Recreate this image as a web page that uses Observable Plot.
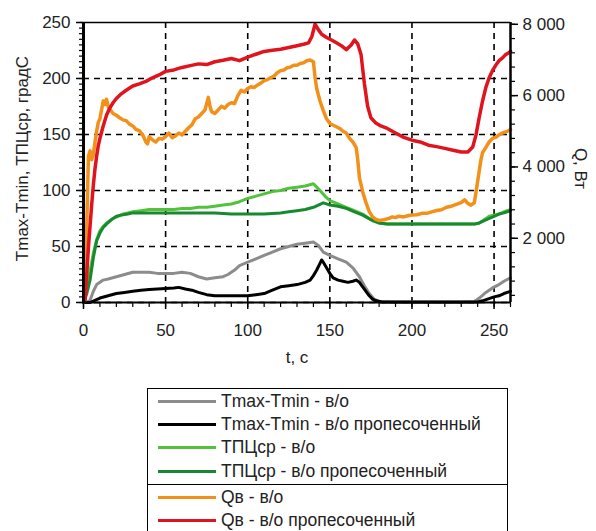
<!DOCTYPE html>
<html>
<head>
<meta charset="utf-8">
<script src="https://cdn.jsdelivr.net/npm/d3@7"></script>
<script src="https://cdn.jsdelivr.net/npm/@observablehq/plot@0.6"></script>
<style>
  html, body { margin: 0; padding: 0; background: #fff; }
  body { width: 596px; height: 531px; overflow: hidden; font-family: "Liberation Sans", Arial, sans-serif; }
  #legend { position: relative; margin-left: 147px; margin-top: 13px; width: 359px; border: 1px solid #000; color: #222; font-size: 17.5px; }
  .grp { padding: 1px 0 1px 0; }
  .grp.first { border-bottom: 1px solid #000; padding-bottom: 1px; }
  .row { height: 23.2px; display: flex; align-items: center; white-space: nowrap; }
  .sw { width: 58px; height: 3px; margin-left: 10px; margin-right: 5px; }
</style>
</head>
<body>
<div id="chart"></div>
<div id="legend"></div>
<script>
// ---- data (t in seconds) ----
const xTicks = [0, 50, 100, 150, 200, 250];
const yTicks = [0, 50, 100, 150, 200, 250];
const qTicks = [2000, 4000, 6000, 8000];

const seriesNames = [
  "Tmax-Tmin - в/о",
  "Tmax-Tmin - в/о пропесоченный",
  "ТПЦср - в/о",
  "ТПЦср - в/о пропесоченный",
  "Qв - в/о",
  "Qв - в/о пропесоченный"
];
const seriesColors = ["#8c8c8c", "#000000", "#52c23c", "#178a2f", "#f39019", "#e0141e"];

// Tmax-Tmin - в/о (left axis)
const grayT = [0,2,4,6,8,10,12,15,20,25,30,35,40,45,50,55,60,65,70,75,80,85,88,92,95,100,105,110,115,120,125,130,135,140,143,146,150,155,160,164,168,171,174,177,180,190,200,210,220,230,238,241,245,249,253,256,260];
const grayV = [0,0,2,10,16,18,20,21,23,25,27,27,27,26,26,26,27,26,23,21,22,23,25,29,33,36,39,42,45,48,50,52,53,54,51,45,42,39,36,31,23,15,8,3,1,0.5,0.5,0.5,0.5,0.5,1,4,9,13,16,19,22];

// Tmax-Tmin - в/о пропесоченный (left axis)
const blackT = [0,4,7,10,15,20,25,30,35,40,45,50,55,58,62,66,70,75,80,85,90,95,100,105,110,115,120,125,130,135,138,140,142,144,145,146,148,150,152,155,158,161,164,166,168,170,172,174,176,178,182,190,200,210,220,230,240,243,246,250,253,256,260];
const blackV = [0,0,2,4,6,8,9,10,11,11.5,12,12.5,13,13.5,12,11,9,7,6,6,6,6,6,7,8,11,14,15,16,18,20,24,29,35,38,36,31,26,22,20,19,18,19,20,18,14,10,6,3,1.5,0.5,0.5,0.5,0.5,0.5,0.5,0.5,1.5,3,5,6,8,10];

// ТПЦср - в/о (left axis)
const lgreenT = [0,2,4,6,8,10,12,14,16,18,21,24,27,30,35,40,45,50,55,60,65,70,75,80,85,90,95,100,105,110,115,120,125,130,135,140,142,144,147,150,155,160,165,170,173,176,180,185,190,200,210,220,230,238,241,244,247,250,253,256,260];
const lgreenV = [0,12,28,44,56,64,68,71,73,75,77,79,80,81,82,83,83,83,83,84,84,85,85,86,87,88,90,93,95,97,99,100,102,103,104,106,103,100,95,91,88,85,82,79,76,73,71,70,70,70,70,70,70,70,71,74,77,78,79,81,83];

// ТПЦср - в/о пропесоченный (left axis)
const dgreenT = [0,2,4,6,8,10,12,14,17,20,23,27,30,40,50,60,70,80,90,100,110,120,125,130,135,140,143,146,148,150,155,160,165,170,175,180,185,190,200,210,220,230,238,241,244,247,250,253,256,260];
const dgreenV = [0,8,20,40,55,62,67,70,74,77,78,79,80,80,80,80,80,80,79,79,79,80,81,82,83,85,87,89,88,87,86,84,81,78,74,71,70,70,70,70,70,70,70,71,73,75,77,79,80,82];

// Qв - в/о (right axis, W)
const orangeT = [1,2,3,4,5,6,7,8,9,10,11,12,13,14,15,16,18,20,22,24,26,28,30,32,34,36,38,39,40,42,44,46,48,50,52,54,56,58,60,62,64,66,68,70,72,74,76,77,78,80,82,84,86,88,90,92,94,96,98,100,102,104,106,108,110,112,114,116,118,120,122,124,126,128,130,132,134,136,138,140,141,142,144,146,148,150,153,156,158,160,162,164,166,167,168,170,172,174,176,178,180,183,186,188,190,192,195,198,200,203,206,209,212,215,218,221,224,227,230,232,234,236,238,239,240,241,242,243,245,247,249,251,253,255,257,259,260];
const orangeQ = [300,2400,4300,4450,4200,4350,4700,5000,5250,5350,5600,5850,5750,5900,5700,5620,5500,5450,5380,5320,5300,5200,5150,5050,5020,4900,4700,4650,4850,4760,4700,4800,4780,4850,4950,4820,4870,4950,4900,5000,5100,5180,5350,5400,5500,5600,5950,5700,5550,5500,5600,5700,5650,5750,5800,5780,6000,6150,6100,6200,6250,6230,6300,6350,6420,6450,6500,6550,6640,6700,6720,6780,6800,6850,6850,6900,6920,6980,7000,6950,6500,6200,5850,5580,5350,5220,5150,5080,5000,4950,4800,4700,4550,4200,3700,3300,3000,2750,2600,2530,2500,2520,2560,2600,2580,2620,2600,2640,2650,2660,2700,2700,2740,2780,2800,2870,2900,2950,3000,3080,2980,2930,3000,3300,3600,3900,4200,4400,4550,4700,4800,4830,4900,4950,4980,5020,5050];

// Qв - в/о пропесоченный (right axis, W)
const redT = [1,2,3,4,5,6,7,8,9,10,12,14,16,18,20,23,26,30,34,38,42,46,50,55,60,65,70,75,80,85,90,95,100,105,110,115,120,125,130,134,137,139,141,143,145,148,151,154,157,160,163,165,167,169,171,173,175,178,181,185,190,195,200,205,210,215,220,225,230,234,237,239,241,243,245,247,249,251,253,255,257,259,260];
const redQ = [250,1000,1750,2350,2950,3500,3950,4300,4600,4800,5150,5450,5650,5800,5920,6050,6150,6270,6330,6400,6500,6580,6680,6720,6790,6840,6890,6870,6950,6990,7040,6980,7080,7160,7240,7270,7300,7350,7400,7440,7480,7650,8000,7850,7720,7630,7560,7480,7400,7290,7420,7560,7450,7150,6350,5700,5380,5230,5150,5080,4950,4830,4750,4700,4610,4570,4520,4470,4420,4420,4560,4900,5400,5850,6230,6500,6700,6850,6980,7050,7150,7200,7240];

// ---- right-axis mapping onto the left scale ----
const Q0 = 200, Q1 = 8050;
const toL = q => (q - Q0) * 250 / (Q1 - Q0);
const fromL = v => Q0 + v * (Q1 - Q0) / 250;
const fmtQ = q => d3.format(",")(Math.round(q / 1000) * 1000).replace(/,/g, " ");

const pts = (T, V, f = v => v) => T.map((t, i) => ({t, v: f(V[i])}));
const data = [
  pts(grayT, grayV),
  pts(blackT, blackV),
  pts(lgreenT, lgreenV),
  pts(dgreenT, dgreenV),
  pts(orangeT, orangeQ, toL),
  pts(redT, redQ, toL)
];

const dash = {stroke: "#000", strokeOpacity: 1, strokeWidth: 1.6, strokeDasharray: "6,5"};

const chart = Plot.plot({
  width: 596,
  height: 375,
  marginLeft: 83,
  marginRight: 86,
  marginTop: 22,
  marginBottom: 73,
  style: {fontFamily: "'Liberation Sans', Arial, sans-serif", fontSize: "17px", color: "#222", background: "#fff"},
  x: {domain: [0, 260]},
  y: {domain: [0, 250]},
  marks: [
    Plot.gridX(xTicks.slice(1), dash),
    Plot.gridY(yTicks.slice(0, -1), dash),
    ...data.map((d, i) => Plot.line(d, {x: "t", y: "v", stroke: seriesColors[i], strokeWidth: i >= 4 ? 3.5 : 3, strokeLinejoin: "round"})),
    Plot.ruleY([250], {stroke: "#000", strokeWidth: 1.5}),
    Plot.ruleY([0], {stroke: "#000", strokeWidth: 2}),
    Plot.ruleX([0], {stroke: "#000", strokeWidth: 3}),
    Plot.ruleX([260], {stroke: "#000", strokeWidth: 2.5}),
    // left axis
    Plot.axisY({ticks: yTicks, tickSize: 7, tickPadding: 6, fontSize: 17, label: null, strokeWidth: 1.5, stroke: "#000"}),
    Plot.axisY({ticks: d3.range(0, 251, 5), tickSize: 4, tickFormat: () => "", label: null, strokeWidth: 1.2, stroke: "#000"}),
    // bottom axis
    Plot.axisX({ticks: xTicks, tickSize: 7, tickPadding: 14, fontSize: 17, label: null, strokeWidth: 1.5, stroke: "#000"}),
    Plot.axisX({ticks: d3.range(0, 261, 10), tickSize: 5, tickFormat: () => "", label: null, strokeWidth: 1.2, stroke: "#000"}),
    // right axis (Q, W)
    Plot.axisY({anchor: "right", ticks: qTicks.map(toL), tickFormat: v => fmtQ(fromL(v)), tickSize: 7, tickPadding: 5, fontSize: 17, label: null, strokeWidth: 1.5, stroke: "#000"}),
    Plot.axisY({anchor: "right", ticks: d3.range(400, 8001, 400).map(toL), tickSize: 4, tickFormat: () => "", label: null, strokeWidth: 1.2, stroke: "#000"}),
    // axis titles
    Plot.text(["Tmax-Tmin, ТПЦср, градС"], {frameAnchor: "left", textAnchor: "middle", lineAnchor: "middle", dx: -61, dy: -4, rotate: -90, fontSize: 17, fill: "#222"}),
    Plot.text(["Q, Вт"], {frameAnchor: "right", textAnchor: "middle", lineAnchor: "middle", dx: 70, dy: 6, rotate: 90, fontSize: 17, fill: "#222"}),
    Plot.text(["t, с"], {frameAnchor: "bottom", textAnchor: "middle", lineAnchor: "middle", dy: 55, fontSize: 17, fill: "#222"})
  ]
});
document.getElementById("chart").appendChild(chart);

// ---- legend ----
const legend = document.getElementById("legend");
[[0, 1, 2, 3], [4, 5]].forEach((idx, g) => {
  const grp = document.createElement("div");
  grp.className = "grp" + (g === 0 ? " first" : "");
  idx.forEach(i => {
    const row = document.createElement("div");
    row.className = "row";
    const sw = document.createElement("span");
    sw.className = "sw";
    sw.style.background = seriesColors[i];
    const tx = document.createElement("span");
    tx.textContent = seriesNames[i];
    row.appendChild(sw);
    row.appendChild(tx);
    grp.appendChild(row);
  });
  legend.appendChild(grp);
});
</script>
</body>
</html>
